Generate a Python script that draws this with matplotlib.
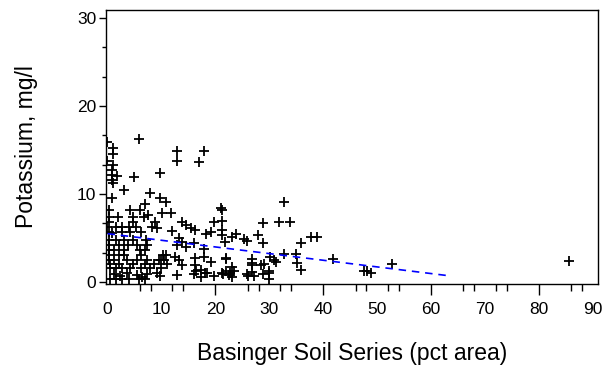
import matplotlib
matplotlib.use("Agg")
import matplotlib.pyplot as plt
import numpy as np

plt.rcParams['font.family'] = ['Liberation Sans', 'DejaVu Sans']

# Basinger soil series (pct area) vs potassium (mg/l)
basinger = [
    0.0, 1.1, 1.1, 0.0, 1.1, 0.8, 0.8, 1.7, 0.8, 1.1, 0.8,
    5.9, 5.0, 9.8, 3.0, 7.9, 9.8, 10.9, 7.0,
    12.9, 12.9, 17.9, 16.9, 21.0,
    0.2, 4.2, 6.1,
    0.2, 2.0, 4.8, 6.7, 7.6,
    0.2, 4.8, 8.8,
    0.0, 1.5, 2.7, 3.9, 5.2, 8.3, 9.2,
    0.2, 0.8, 2.7, 4.2, 6.3,
    0.2, 1.5, 3.0, 4.8, 7.2,
    0.2, 2.2, 3.8, 5.5, 7.4,
    0.2, 1.2, 3.0, 6.0, 6.9,
    0.2, 2.2, 3.0, 6.3, 10.3,
    0.2, 1.2, 3.6, 5.5, 7.4, 9.6, 10.5,
    0.5, 2.2, 4.8, 6.9, 8.6, 11.0,
    0.5, 1.5, 2.7, 4.2, 6.3, 7.9,
    1.2, 2.4, 3.6, 5.5, 6.4, 7.4, 9.2, 9.8, 12.9, 16.0, 17.3, 18.5, 19.7,
    21.3, 22.5, 23.1, 25.9, 27.2, 29.9,
    0.5, 1.5, 2.6, 4.0, 5.8, 7.0,
    10.1, 11.7, 19.7, 13.8, 14.5, 15.4, 16.3, 12.0, 18.2, 19.1, 21.3, 23.1,
    13.2, 13.8, 12.9, 14.5, 16.0, 17.9, 10.8, 12.6, 13.2, 13.8, 16.3, 16.3,
    17.9, 19.1, 21.9, 23.1, 16.5, 17.3, 18.0, 10.0, 10.0,
    21.3, 21.3, 21.3, 21.7, 23.9, 25.3, 25.9, 27.9, 28.8, 35.8, 37.8, 38.9,
    28.8, 31.8, 33.8, 32.8,
    21.9, 26.8, 26.8, 29.0, 30.1, 30.9, 32.8, 34.9, 35.1, 35.9, 41.9,
    22.0, 22.8, 23.5, 21.5, 26.0, 26.8, 28.9, 29.9, 29.9, 31.2, 26.8, 28.4,
    47.6, 48.8, 52.8, 85.6, 48.1,
]
potassium = [
    15.9, 15.2, 14.5, 13.8, 13.3, 12.7, 12.2, 12.0, 11.6, 11.3, 9.5,
    16.2, 11.9, 12.4, 10.5, 10.1, 9.6, 9.1, 8.9,
    14.9, 13.8, 14.9, 13.6, 8.4,
    8.2, 8.2, 8.2,
    7.4, 7.4, 7.4, 7.4, 7.6,
    6.85, 6.85, 6.85,
    6.3, 6.3, 6.3, 6.3, 6.3, 6.3, 6.1,
    5.7, 5.6, 5.7, 5.7, 5.7,
    4.8, 4.8, 4.8, 4.8, 4.8,
    4.2, 4.2, 4.2, 4.2, 4.2,
    3.6, 3.6, 3.6, 3.6, 3.6,
    3.1, 3.1, 3.1, 3.1, 3.1,
    2.5, 2.5, 2.5, 2.5, 2.5, 2.5, 2.5,
    2.1, 2.1, 2.1, 2.1, 2.1, 2.1,
    1.55, 1.55, 1.55, 1.55, 1.55, 1.55,
    0.9, 0.7, 1.0, 0.8, 0.6, 0.9, 1.0, 0.7, 0.8, 0.9, 0.6, 1.0, 0.7,
    1.0, 0.8, 0.6, 0.9, 0.7, 1.0,
    0.4, 0.3, 0.4, 0.3, 0.4, 0.3,
    7.8, 7.8, 6.85, 6.85, 6.5, 6.1, 5.9, 5.8, 5.5, 5.7, 5.9, 5.1,
    5.0, 4.6, 4.2, 4.0, 4.4, 3.8, 3.1, 2.9, 2.5, 1.9, 2.7, 1.9,
    2.9, 2.3, 2.7, 1.75, 1.2, 1.4, 1.0, 2.5, 1.6,
    8.2, 6.9, 5.4, 4.6, 5.5, 4.9, 4.7, 5.3, 4.4, 4.4, 5.1, 5.1,
    6.7, 6.8, 6.8, 9.1,
    2.6, 2.6, 2.2, 2.0, 2.8, 2.5, 3.2, 3.2, 2.2, 1.4, 2.6,
    1.2, 1.0, 1.3, 0.9, 0.7, 1.1, 0.9, 1.3, 0.4, 2.3, 1.9, 1.9,
    1.2, 1.0, 2.0, 2.4, 1.25,
]

# fitted line end points
fit_x = [0.0, 63.5]
fit_y = [5.5, 0.7]

x_labels = [0, 10, 20, 30, 40, 50, 60, 70, 80, 90]
y_labels = [0, 10, 20, 30]

fig = plt.figure(figsize=(6.05, 3.71), dpi=100)
ax = fig.add_axes([0.175, 0.235, 0.813, 0.738])

ax.plot(basinger, potassium, linestyle='none', marker='+', color='black',
        markersize=7, markeredgewidth=1.3)
line, = ax.plot(fit_x, fit_y, color='#0000ff', linewidth=1.2)
line.set_dashes((4.5, 3.5))

ax.set_xlim(-0.3, 90.9)
ax.set_ylim(-0.2, 30.9)

ax.set_xticks(x_labels)
ax.set_xticks([0, 6, 8, 12, 14, 26, 28, 32, 34, 46, 48, 52, 54, 66, 68, 72, 74, 86, 88], minor=True)
ax.tick_params(axis='x', which='major', length=0, pad=13, labelsize=12.5)
ax.tick_params(axis='x', which='minor', length=5, width=1)
sec = ax.secondary_xaxis('bottom')
sec.set_xticks([20, 40, 60, 80])
sec.tick_params(length=8, width=1, labelbottom=False)
sec.spines['bottom'].set_visible(False)

ax.set_yticks(y_labels)
ax.set_yticks([3.3, 6.7, 13.3, 16.7, 23.3, 26.7], minor=True)
ax.tick_params(axis='y', which='major', length=5, width=1, pad=2, labelsize=12.5)
ax.tick_params(axis='y', which='minor', length=3, width=1)

for s in ax.spines.values():
    s.set_linewidth(1)

ax.set_xlabel('Basinger Soil Series (pct area)', fontsize=16.5, labelpad=18)
ax.set_ylabel('Potassium, mg/l', fontsize=16.5, labelpad=28)

fig.savefig('out.png', dpi=100)
